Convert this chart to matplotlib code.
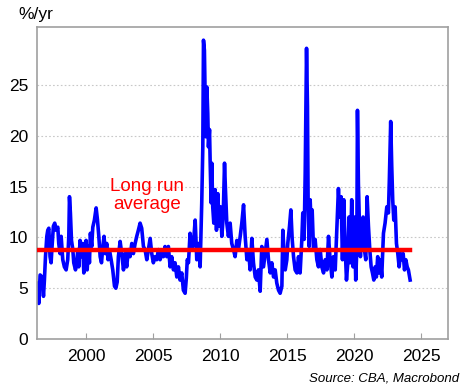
import matplotlib
matplotlib.use('Agg')
import matplotlib.pyplot as plt

plt.rcParams['font.family'] = ['Liberation Sans', 'DejaVu Sans']

# 读图得到的时间点（年）和波动率（%/yr）
years = [
    1996.39, 1996.47, 1996.57, 1996.72, 1996.82, 1996.89, 1996.97, 1997.07, 1997.14, 1997.22,
    1997.31, 1997.39, 1997.46, 1997.56, 1997.66, 1997.76, 1997.89, 1997.96, 1998.06, 1998.14,
    1998.26, 1998.38, 1998.51, 1998.63, 1998.71, 1998.76, 1998.83, 1998.91, 1999.01, 1999.08,
    1999.21, 1999.30, 1999.38, 1999.45, 1999.55, 1999.65, 1999.75, 1999.83, 1999.93, 2000.00,
    2000.08, 2000.18, 2000.25, 2000.32, 2000.42, 2000.50, 2000.62, 2000.75, 2000.85, 2000.95,
    2001.05, 2001.15, 2001.25, 2001.34, 2001.44, 2001.54, 2001.64, 2001.74, 2001.87, 2001.99,
    2002.12, 2002.22, 2002.32, 2002.41, 2002.54, 2002.66, 2002.79, 2002.91, 2003.03, 2003.16,
    2003.28, 2003.41, 2003.53, 2003.66, 2003.78, 2003.90, 2004.03, 2004.15, 2004.28, 2004.40,
    2004.53, 2004.65, 2004.78, 2004.90, 2005.02, 2005.15, 2005.27, 2005.40, 2005.52, 2005.65,
    2005.77, 2005.89, 2006.02, 2006.14, 2006.27, 2006.39, 2006.52, 2006.64, 2006.77, 2006.89,
    2007.01, 2007.14, 2007.26, 2007.39, 2007.48, 2007.55, 2007.64, 2007.76, 2007.89, 2008.01,
    2008.14, 2008.26, 2008.39, 2008.51, 2008.63, 2008.71, 2008.76, 2008.83, 2008.88, 2008.93,
    2009.01, 2009.08, 2009.13, 2009.21, 2009.26, 2009.33, 2009.38, 2009.45, 2009.53, 2009.63,
    2009.73, 2009.83, 2009.93, 2010.03, 2010.13, 2010.23, 2010.33, 2010.40, 2010.50, 2010.62,
    2010.75, 2010.87, 2011.00, 2011.12, 2011.25, 2011.37, 2011.50, 2011.62, 2011.75, 2011.87,
    2012.00, 2012.12, 2012.24, 2012.37, 2012.49, 2012.62, 2012.74, 2012.86, 2012.99, 2013.11,
    2013.24, 2013.36, 2013.49, 2013.61, 2013.74, 2013.86, 2013.99, 2014.11, 2014.23, 2014.36,
    2014.48, 2014.61, 2014.68, 2014.78, 2014.86, 2014.98, 2015.05, 2015.18, 2015.28, 2015.38,
    2015.48, 2015.60, 2015.73, 2015.85, 2015.97, 2016.10, 2016.17, 2016.27, 2016.35, 2016.40,
    2016.45, 2016.52, 2016.57, 2016.65, 2016.72, 2016.80, 2016.87, 2016.97, 2017.09, 2017.22,
    2017.34, 2017.47, 2017.59, 2017.72, 2017.84, 2017.97, 2018.09, 2018.21, 2018.34, 2018.46,
    2018.59, 2018.70, 2018.83, 2018.93, 2019.03, 2019.13, 2019.23, 2019.33, 2019.43, 2019.53,
    2019.62, 2019.72, 2019.82, 2019.92, 2020.02, 2020.12, 2020.20, 2020.25, 2020.32, 2020.40,
    2020.47, 2020.57, 2020.67, 2020.77, 2020.87, 2020.97, 2021.07, 2021.17, 2021.27, 2021.37,
    2021.47, 2021.57, 2021.66, 2021.76, 2021.86, 2021.96, 2022.06, 2022.19, 2022.31, 2022.44,
    2022.56, 2022.63, 2022.73, 2022.81, 2022.88, 2022.96, 2023.06, 2023.16, 2023.26, 2023.36,
    2023.46, 2023.56, 2023.66, 2023.76, 2023.86, 2023.96, 2024.05, 2024.18,
]
vol = [
    5.5, 3.5, 6.3, 6.1, 4.2, 5.8, 8.1, 10.1, 10.7, 10.9,
    8.1, 7.5, 9.1, 11.1, 11.4, 10.7, 11.0, 9.4, 8.4, 10.1,
    7.8, 7.1, 6.8, 7.8, 10.1, 14.0, 12.4, 9.7, 8.8, 7.5,
    6.8, 7.5, 8.8, 7.1, 9.7, 8.1, 9.4, 6.5, 8.4, 9.7,
    6.8, 9.1, 7.5, 10.4, 9.1, 11.0, 11.7, 12.9, 11.7, 10.1,
    8.1, 7.5, 9.1, 10.1, 8.4, 9.4, 7.8, 8.8, 7.8, 6.8,
    5.2, 5.0, 5.6, 8.1, 9.6, 8.4, 6.8, 8.4, 7.1, 8.8,
    8.1, 9.4, 8.4, 9.4, 10.1, 10.7, 11.4, 10.9, 9.1, 8.8,
    7.8, 8.8, 9.9, 8.4, 7.5, 8.1, 7.8, 8.8, 7.8, 8.4,
    8.1, 9.1, 8.1, 9.1, 7.1, 8.1, 6.8, 7.5, 6.1, 7.1,
    5.8, 6.5, 4.8, 4.5, 6.0, 7.8, 7.5, 10.4, 8.8, 9.4,
    11.7, 7.8, 9.4, 7.1, 13.4, 18.9, 29.4, 28.4, 23.9, 19.9,
    24.8, 22.2, 18.9, 20.6, 17.3, 13.4, 17.3, 13.0, 11.4, 14.7,
    10.7, 14.3, 11.1, 13.0, 10.1, 12.0, 17.3, 14.7, 11.4, 10.1,
    11.4, 9.4, 8.8, 8.1, 9.7, 8.8, 10.1, 11.4, 13.2, 10.1,
    7.8, 8.8, 6.8, 9.9, 7.5, 6.1, 5.8, 6.8, 4.7, 9.1,
    7.1, 8.4, 9.8, 7.8, 6.5, 7.5, 6.1, 6.8, 5.5, 4.8,
    4.5, 5.2, 10.7, 8.4, 6.8, 7.8, 9.4, 11.1, 12.7, 9.8,
    8.1, 6.8, 6.5, 8.1, 6.5, 9.8, 12.4, 9.8, 16.3, 22.9,
    28.6, 22.9, 13.0, 9.1, 13.7, 11.1, 12.7, 8.8, 9.8, 7.8,
    7.1, 8.8, 7.1, 6.5, 7.8, 6.8, 10.1, 7.8, 6.1, 8.1,
    6.8, 10.4, 14.8, 12.0, 14.0, 7.8, 13.7, 9.1, 5.8, 7.5,
    12.0, 7.5, 13.7, 7.1, 12.0, 5.8, 8.8, 22.5, 15.3, 11.1,
    8.1, 11.1, 12.0, 8.8, 7.8, 14.0, 11.1, 8.8, 7.1, 6.5,
    5.8, 7.1, 6.1, 8.1, 6.5, 7.8, 6.1, 10.4, 11.4, 13.0,
    12.4, 15.7, 21.4, 16.9, 13.7, 11.7, 13.0, 9.4, 8.4, 7.1,
    8.4, 7.8, 8.4, 6.8, 7.8, 7.1, 6.8, 5.8,
]

avg_value = 8.8
avg_span = [1996.47, 2024.2]
x_ticks = [2000, 2005, 2010, 2015, 2020, 2025]
y_ticks = [0, 5, 10, 15, 20, 25]

fig = plt.figure(figsize=(4.71, 3.91), dpi=100)
ax = fig.add_axes([0.0775, 0.133, 0.8735, 0.798])

ax.plot(years, vol, color='#0000ff', linewidth=2.6, zorder=2)
ax.plot(avg_span, [avg_value, avg_value], color='#ff0000', linewidth=3.2, zorder=3)

ax.text(2004.55, 14.1, 'Long run\naverage', color='#ff0000', fontsize=13.5,
        ha='center', va='center', linespacing=1.05)

ax.set_xlim(1996.3, 2027.0)
ax.set_ylim(0, 30.7)
ax.set_xticks(x_ticks)
ax.set_yticks(y_ticks)

# 网格与边框
ax.yaxis.grid(True, linestyle=(0, (1.5, 2)), color='#c8c8c8', linewidth=0.8)
ax.set_axisbelow(True)
for s in ax.spines.values():
    s.set_color('#a0a0a0')
    s.set_linewidth(1.2)

ax.tick_params(axis='x', direction='in', length=4, color='#a0a0a0', labelsize=12.5, pad=7)
ax.tick_params(axis='y', length=0, labelsize=12.5, pad=6)

fig.text(0.038, 0.962, '%/yr', fontsize=12.5, ha='left', va='center')
fig.text(0.975, 0.031, 'Source: CBA, Macrobond', fontsize=9.5, style='italic',
         ha='right', va='center')

fig.savefig('out.png', dpi=100)
